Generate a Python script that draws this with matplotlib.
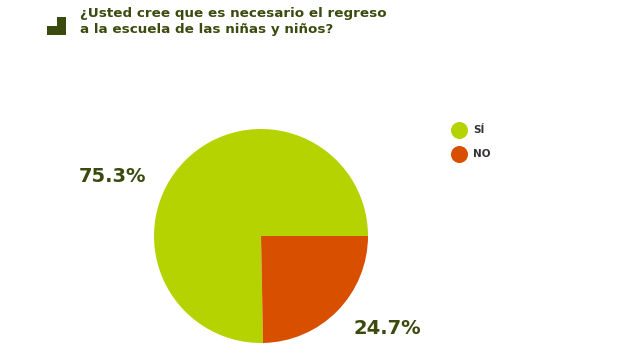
import matplotlib.pyplot as plt
from matplotlib.patches import Polygon

labels = ['SÍ', 'NO']
values = [75.3, 24.7]
colors = ['#b5d300', '#d94f00']
pct_labels = ['75.3%', '24.7%']
title = '¿Usted cree que es necesario el regreso\na la escuela de las niñas y niños?'

dark = '#3b4a0e'
plt.rcParams['font.family'] = ['DejaVu Sans']

fig = plt.figure(figsize=(6.4, 3.6), dpi=100)
ax = fig.add_axes([0, 0, 1, 1])

# pie: SÍ from east going counterclockwise, NO fills the rest
ax.pie(values, colors=colors, startangle=0, counterclock=True,
       center=(261, 124), radius=107, wedgeprops=dict(linewidth=0))
ax.set_xlim(0, 640)
ax.set_ylim(0, 360)
ax.set_aspect('auto')
ax.axis('off')

# stair icon
icon = Polygon([(47, 360-35), (66, 360-35), (66, 360-17), (57, 360-17),
                (57, 360-26), (47, 360-26)], closed=True, color=dark, lw=0)
ax.add_patch(icon)

fig.text(80/640, 1-7/360, title, ha='left', va='top', fontsize=9.7,
         fontweight='bold', color=dark, linespacing=1.25)

# percentage labels
fig.text(113/640, 1-177/360, pct_labels[0], ha='center', va='center',
         fontsize=14, fontweight='bold', color=dark)
fig.text(387/640, 1-328/360, pct_labels[1], ha='center', va='center',
         fontsize=14, fontweight='bold', color=dark)

# legend
for i, (lab, col) in enumerate(zip(labels, colors)):
    y = 130 + 24 * i
    ax.scatter([459], [360 - y], s=150, color=col, lw=0)
    fig.text(473/640, 1-y/360, lab, ha='left', va='center', fontsize=7.5,
             fontweight='bold', color='#333333')

fig.savefig('out.png', dpi=100)
